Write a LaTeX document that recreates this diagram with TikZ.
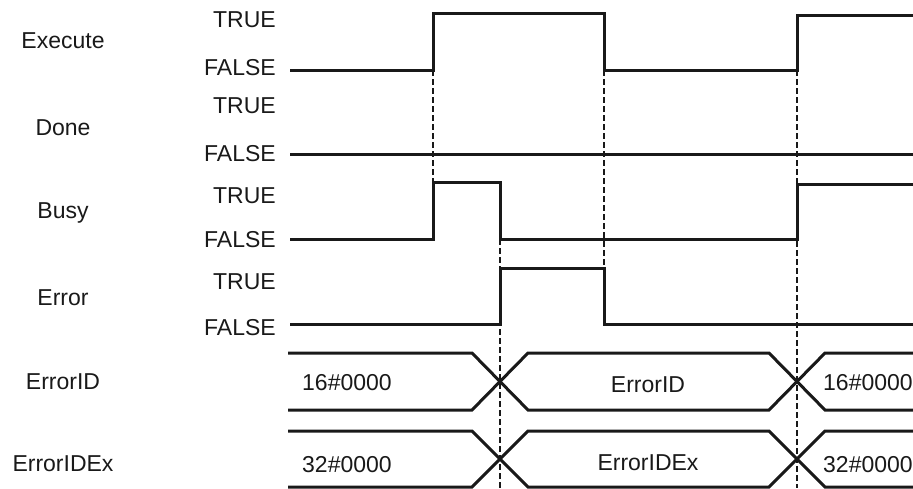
\documentclass[tikz,border=0pt]{standalone}
\usepackage{fontspec}
\setmainfont{Liberation Sans}
\begin{document}
\begin{tikzpicture}[x=1pt,y=-1pt,
  sig/.style={line width=3pt, draw=black!90},
  guide/.style={line width=1.6pt, dash pattern=on 6pt off 3pt, draw=black!90},
  signame/.style={font=\fontsize{23}{26}\selectfont, text=black!90, inner sep=0pt, anchor=center},
  lvl/.style={font=\fontsize{23}{26}\selectfont, text=black!90, inner sep=0pt, anchor=east},
  val/.style={font=\fontsize{23}{26}\selectfont, text=black!90, inner sep=0pt}]
\useasboundingbox (0,0) rectangle (913,488);

% signal names
\node[signame] (nExec) at (63,41) {Execute};
\node[signame] (nDone) at (63,128) {Done};
\node[signame] (nBusy) at (63,213) {Busy};
\node[signame] (nErr) at (63,298) {Error};
\node[signame] (nEID) at (63,382) {ErrorID};
\node[signame] (nEIDx) at (63,464) {ErrorIDEx};

% levels
\node[lvl] (t1) at (276,20) {TRUE};
\node[lvl] (f1) at (276,68) {FALSE};
\node[lvl] (t2) at (276,106) {TRUE};
\node[lvl] (f2) at (276,154) {FALSE};
\node[lvl] (t3) at (276,196) {TRUE};
\node[lvl] (f3) at (276,240) {FALSE};
\node[lvl] (t4) at (276,282) {TRUE};
\node[lvl] (f4) at (276,328) {FALSE};

% dashed guides
\draw[guide] (433,70) -- (433,182);
\draw[guide] (604,70) -- (604,268);
\draw[guide] (500,239) -- (500,488);
\draw[guide] (797,70) -- (797,488);

% Execute
\draw[sig] (290,70) -- (433,70) -- (433,13) -- (604,13) -- (604,70) -- (797,70) -- (797,15) -- (913,15);
% Done
\draw[sig] (290,154) -- (913,154);
% Busy
\draw[sig] (290,239) -- (433,239) -- (433,182) -- (500,182) -- (500,239) -- (797,239) -- (797,184) -- (913,184);
% Error
\draw[sig] (290,324) -- (500,324) -- (500,268) -- (604,268) -- (604,324) -- (913,324);

% ErrorID bus
\draw[sig] (288,353) -- (472,353) -- (528,410) -- (769,410) -- (825,353) -- (913,353);
\draw[sig] (288,410) -- (472,410) -- (528,353) -- (769,353) -- (825,410) -- (913,410);
% ErrorIDEx bus
\draw[sig] (288,431) -- (472,431) -- (528,487) -- (769,487) -- (825,431) -- (913,431);
\draw[sig] (288,487) -- (472,487) -- (528,431) -- (769,431) -- (825,487) -- (913,487);

% bus values
\node[val, anchor=west] (v1) at (302,383) {16\#0000};
\node[val] (v2) at (648,385) {ErrorID};
\node[val, anchor=west] (v3) at (823,383) {16\#0000};
\node[val, anchor=west] (v4) at (302,465) {32\#0000};
\node[val] (v5) at (648,463) {ErrorIDEx};
\node[val, anchor=west] (v6) at (823,465) {32\#0000};
\end{tikzpicture}
\end{document}
